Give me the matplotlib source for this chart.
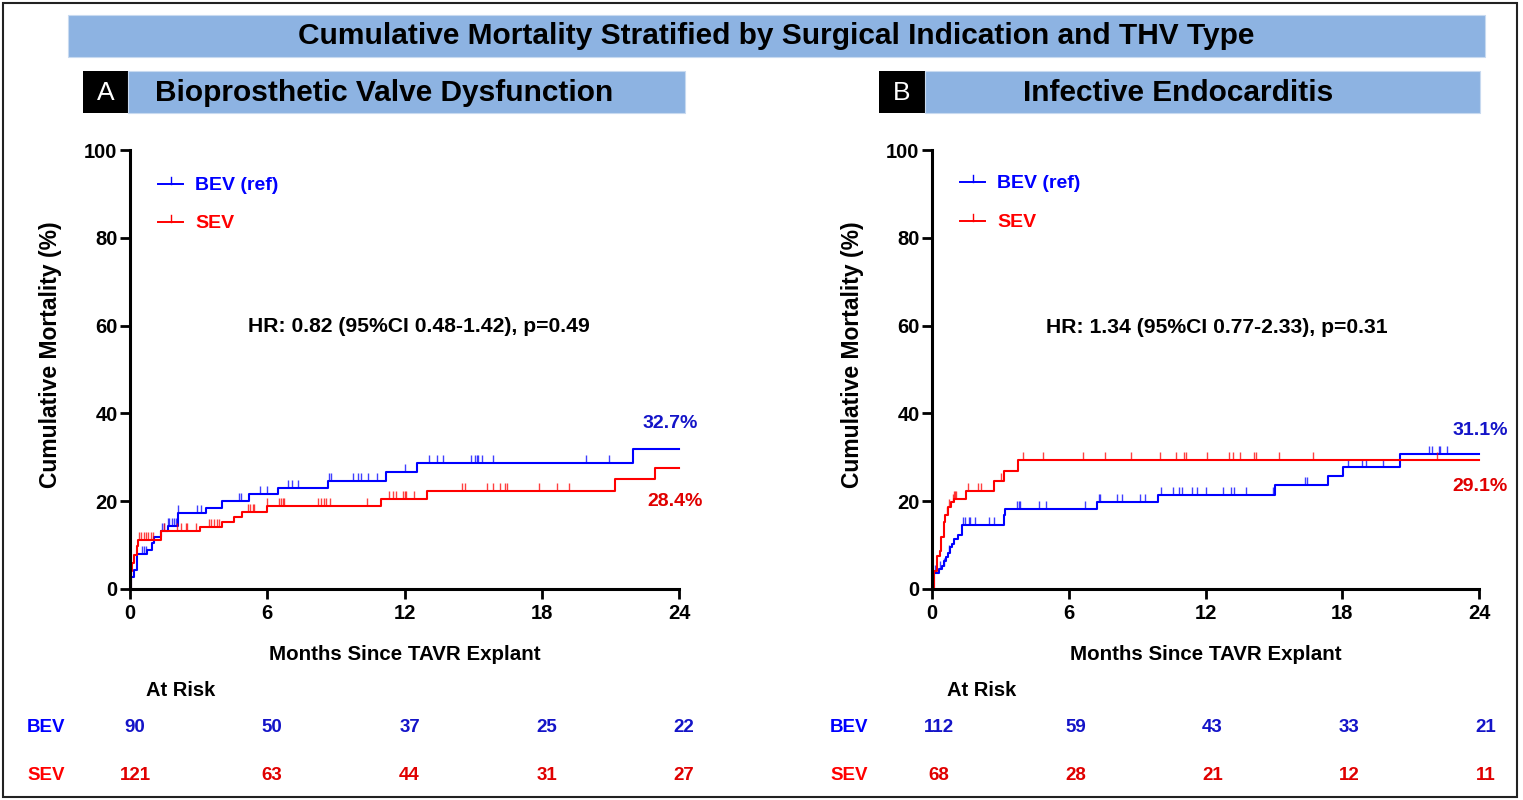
import numpy as np
import matplotlib
matplotlib.use("Agg")
import matplotlib.pyplot as plt
from matplotlib.patches import Rectangle
from matplotlib.lines import Line2D
from matplotlib.transforms import blended_transform_factory, offset_copy

plt.rcParams['font.family'] = ['Liberation Sans', 'DejaVu Sans']

W, H = 1523, 800

# ---------------- data ----------------
title = "Cumulative Mortality Stratified by Surgical Indication and THV Type"
panel_titles = ["Bioprosthetic Valve Dysfunction", "Infective Endocarditis"]
panel_letters = ["A", "B"]
hr_texts = ["HR: 0.82 (95%CI 0.48-1.42), p=0.49", "HR: 1.34 (95%CI 0.77-2.33), p=0.31"]
groups = ["BEV", "SEV"]
legend_labels = ["BEV (ref)", "SEV"]
risk_times = [0, 6, 12, 18, 24]

# Panel A - BEV
A_bev_t = [0, 0.06, 0.18, 0.32, 0.76, 0.98, 1.05, 1.34, 1.64, 2.10, 3.31, 4.04, 5.21, 6.48, 8.67, 11.2, 12.53, 22.0]
A_bev_y = [0, 2.8, 4.4, 8.0, 8.9, 10.5, 11.8, 13.1, 14.3, 17.2, 18.5, 20.0, 21.7, 23.1, 24.7, 26.6, 28.8, 31.8]
A_bev_cens = [0.54, 0.61, 0.69, 1.42, 1.49, 1.64, 1.71, 1.85, 1.93, 2.0, 2.12, 2.92, 3.12, 4.77, 4.85,
              5.69, 6.01, 6.89, 7.07, 7.36, 8.72, 8.8, 9.74, 9.96, 10.1, 10.4, 10.8, 12.0, 13.05, 13.4,
              13.7, 14.9, 15.08, 15.18, 15.23, 15.4, 15.86, 19.93, 20.95]
# Panel A - SEV
A_sev_t = [0, 0.03, 0.10, 0.18, 0.29, 0.35, 1.34, 3.07, 4.04, 4.53, 4.88, 5.99, 10.98, 12.97, 21.2, 22.95]
A_sev_y = [0, 4.0, 5.9, 7.8, 9.7, 11.2, 13.1, 14.1, 15.2, 16.4, 17.5, 18.9, 20.4, 22.4, 25.0, 27.6]
A_sev_cens = [0.4, 0.5, 0.6, 0.7, 0.8, 0.9, 1.0, 1.49, 2.07, 2.22, 2.44, 2.51, 2.88, 3.46, 3.53, 3.68,
              3.82, 3.9, 5.14, 5.26, 5.36, 5.43, 6.01, 6.53, 6.6, 6.67, 6.74, 8.2, 8.35, 8.5, 8.57, 8.76,
              10.36, 11.34, 11.49, 11.63, 11.93, 12.0, 12.07, 12.4, 14.5, 14.65, 15.6, 15.86, 16.17,
              16.4, 16.47, 17.9, 18.65, 19.2]

# Panel B - BEV
B_bev_t = [0, 0.07, 0.29, 0.44, 0.54, 0.63, 0.69, 0.78, 0.88, 0.95, 1.13, 1.32, 3.15, 3.22, 7.25, 9.91,
           15.05, 17.39, 18.02, 20.53]
B_bev_y = [0, 3.7, 4.5, 5.2, 6.4, 7.2, 8.3, 9.5, 10.2, 11.4, 12.4, 14.5, 16.8, 18.3, 19.8, 21.4,
           23.6, 25.7, 27.9, 30.7]
B_bev_cens = [0.15, 0.37, 0.51, 0.73, 1.36, 1.46, 1.61, 1.68, 1.9, 2.49, 2.71, 3.73, 3.81, 3.85, 4.69,
              4.98, 6.73, 7.32, 7.39, 8.1, 8.32, 9.12, 9.33, 10.03, 10.59, 10.83, 10.98, 11.42, 11.64,
              12.03, 12.78, 13.11, 13.27, 13.78, 14.95, 16.37, 16.44, 18.27, 18.88, 19.03, 19.78,
              21.82, 21.95, 22.26, 22.29, 22.61]
# Panel B - SEV
B_sev_t = [0, 0.07, 0.22, 0.37, 0.40, 0.51, 0.59, 0.69, 0.83, 0.95, 1.51, 2.71, 3.18, 3.76]
B_sev_y = [0, 4.1, 7.5, 8.7, 11.8, 15.2, 16.8, 18.7, 19.8, 20.6, 22.4, 24.7, 26.8, 29.3]
B_sev_cens = [0.66, 0.73, 0.92, 0.97, 1.02, 1.07, 1.57, 2.0, 2.17, 3.03, 4.0, 4.86, 6.62, 7.58, 8.74,
              10.0, 10.69, 11.05, 11.13, 12.05, 13.05, 13.22, 13.51, 14.13, 14.22, 15.23, 16.73, 22.14]

end_labels = [["32.7%", "28.4%"], ["31.1%", "29.1%"]]
risk_A = [[90, 50, 37, 25, 22], [121, 63, 44, 31, 27]]
risk_B = [[112, 59, 43, 33, 21], [68, 28, 21, 12, 11]]

# ---------------- style ----------------
BLUE = "#0000FF"
RED = "#FF0000"
DBLUE = "#1414C8"
DRED = "#E00000"
BAND = "#8DB3E2"

fig = plt.figure(figsize=(W / 100, H / 100), dpi=100)


def fx(x):
    return x / W


def fy(y):
    return 1 - y / H


def ftext(x, y, s, **kw):
    fig.text(fx(x), fy(y), s, **kw)


# outer border
fig.add_artist(Rectangle((fx(3), fy(797)), fx(1514), 794 / H, transform=fig.transFigure,
                         fill=False, ec="#222222", lw=1.5))
# title band
fig.add_artist(Rectangle((fx(68), fy(57)), fx(1485 - 68), 42 / H, transform=fig.transFigure,
                         fc=BAND, ec="#C8DAF0", lw=0.8))
ftext(776, 36, title, ha="center", va="center", fontsize=21.5, fontweight="bold")

panel_geo = [
    dict(box=(83, 128, 685), ax_left=130, ax_right=679, title_x=155, title_ha="left",
         ylab_x=50, hr=(419, 327), leg_x=158, leg_y=(184, 222), end=[(670, 424), (675, 502)],
         xlab_x=405, atrisk_x=181, grp_x=46, risk_dx=5),
    dict(box=(879, 925, 1480), ax_left=932, ax_right=1479, title_x=1178, title_ha="center",
         ylab_x=853, hr=(1217, 328), leg_x=960, leg_y=(182, 221), end=[(1480, 431), (1480, 486)],
         xlab_x=1206, atrisk_x=982, grp_x=849, risk_dx=7),
]

curves = [
    [(A_bev_t, A_bev_y, A_bev_cens), (A_sev_t, A_sev_y, A_sev_cens)],
    [(B_bev_t, B_bev_y, B_bev_cens), (B_sev_t, B_sev_y, B_sev_cens)],
]
risks = [risk_A, risk_B]

ax_top, ax_bot = 150, 589

for p in range(2):
    g = panel_geo[p]
    b0, b1, b2 = g["box"]
    fig.add_artist(Rectangle((fx(b0), fy(113)), fx(b1 - b0), 42 / H, transform=fig.transFigure,
                             fc="black", ec="none"))
    fig.add_artist(Rectangle((fx(b1), fy(113)), fx(b2 - b1), 42 / H, transform=fig.transFigure,
                             fc=BAND, ec="#C8DAF0", lw=0.8))
    ftext((b0 + b1) / 2, 93, panel_letters[p], ha="center", va="center", fontsize=19, color="white")
    ftext(g["title_x"], 93, panel_titles[p], ha=g["title_ha"], va="center", fontsize=21.5,
          fontweight="bold")

    ax = fig.add_axes([fx(g["ax_left"]), fy(ax_bot), fx(g["ax_right"] - g["ax_left"]),
                       (ax_bot - ax_top) / H])
    ax.set_xlim(0, 24)
    ax.set_ylim(0, 100)
    for s in ["top", "right"]:
        ax.spines[s].set_visible(False)
    for s in ["left", "bottom"]:
        ax.spines[s].set_linewidth(2.2)
    ax.set_xticks(risk_times)
    ax.set_yticks([0, 20, 40, 60, 80, 100])
    ax.tick_params(axis="both", direction="out", length=7, width=2, labelsize=14.5, pad=2)
    ax.tick_params(axis="x", pad=4)
    for lab in ax.get_xticklabels() + ax.get_yticklabels():
        lab.set_fontweight("bold")
    ax.patch.set_visible(False)

    for k, (t, y, cens) in enumerate(curves[p]):
        col = BLUE if k == 0 else RED
        tt = list(t) + [24]
        yy = list(y) + [y[-1]]
        ax.step(tt, yy, where="post", color=col, lw=1.5, clip_on=False)
        cens = np.asarray(cens)
        idx = np.searchsorted(np.asarray(t), cens, side="right") - 1
        cy = np.asarray(y)[idx]
        ax.plot(cens, cy, ls="none", marker=2, markersize=5.5, mew=1.0, color=col, alpha=0.75)

    # legend
    for k in range(2):
        col = BLUE if k == 0 else RED
        ly = g["leg_y"][k]
        x0 = g["leg_x"]
        fig.add_artist(Line2D([fx(x0), fx(x0 + 25)], [fy(ly), fy(ly)], transform=fig.transFigure,
                              color=col, lw=1.4))
        fig.add_artist(Line2D([fx(x0 + 12.5), fx(x0 + 12.5)], [fy(ly), fy(ly - 7)],
                              transform=fig.transFigure, color=col, lw=1.0))
        ftext(x0 + 37, ly + 1, legend_labels[k], ha="left", va="center", fontsize=14,
              fontweight="bold", color=col)

    # HR
    ftext(g["hr"][0], g["hr"][1], hr_texts[p], ha="center", va="center", fontsize=15.2,
          fontweight="bold")
    # end labels
    for k in range(2):
        ftext(g["end"][k][0], g["end"][k][1], end_labels[p][k], ha="center", va="center",
              fontsize=14, fontweight="bold", color=DBLUE if k == 0 else DRED)

    # axis labels
    ftext(g["ylab_x"], 355, "Cumulative Mortality (%)", ha="center", va="center", rotation=90,
          fontsize=16.5, fontweight="bold")
    ftext(g["xlab_x"], 654, "Months Since TAVR Explant", ha="center", va="center", fontsize=14.8,
          fontweight="bold")

    # at risk
    ftext(g["atrisk_x"], 690, "At Risk", ha="center", va="center", fontsize=14.5, fontweight="bold")
    tr = offset_copy(blended_transform_factory(ax.transData, fig.transFigure), fig=fig,
                     x=g["risk_dx"], y=0, units="dots")
    for k in range(2):
        col = BLUE if k == 0 else RED
        ry = 728 if k == 0 else 776
        ftext(g["grp_x"], ry, groups[k], ha="center", va="center", fontsize=13.5, fontweight="bold",
              color=col)
        for t, n in zip(risk_times, risks[p][k]):
            fig.text(t, fy(ry), str(n), transform=tr, ha="center", va="center", fontsize=13.5,
                     fontweight="bold", color=DBLUE if k == 0 else DRED)

fig.savefig("out.png", dpi=100)
